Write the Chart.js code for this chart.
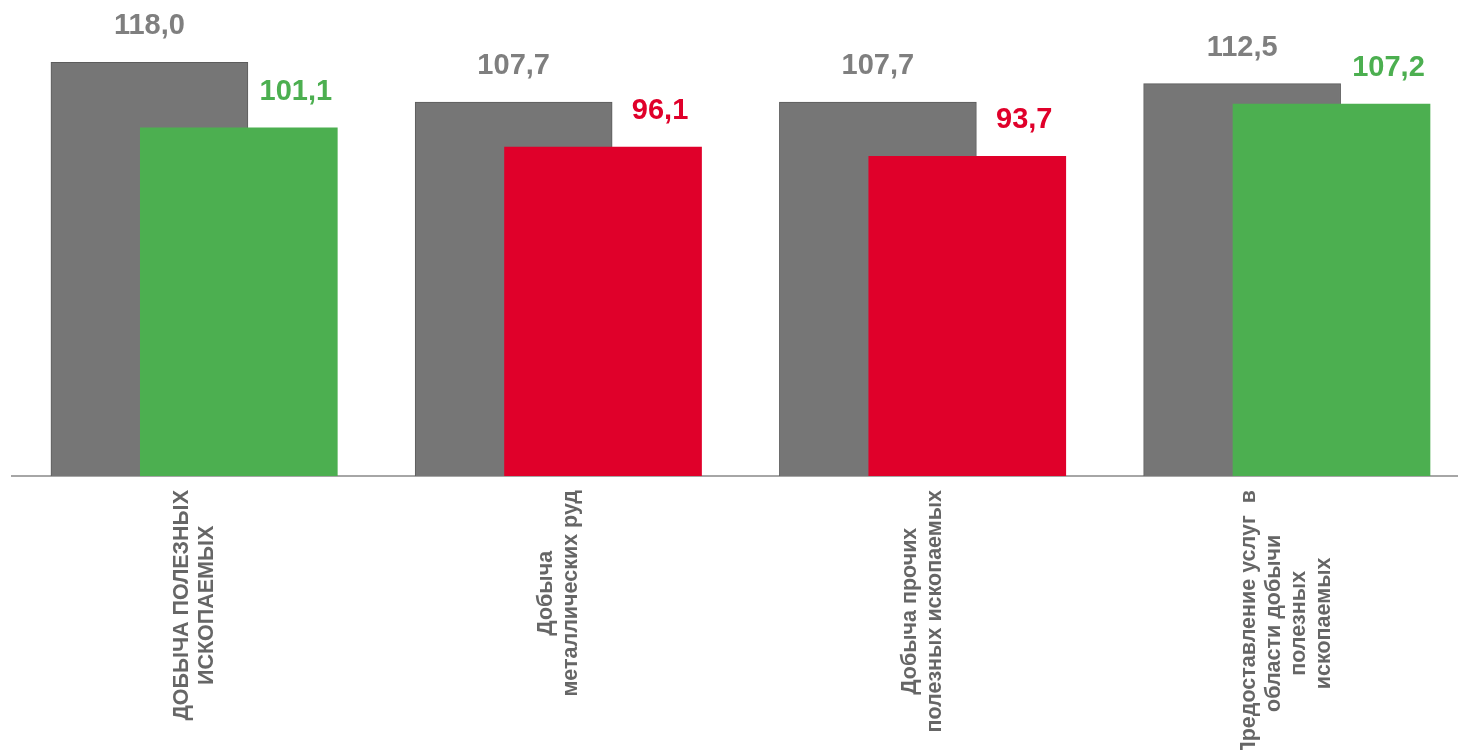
<!DOCTYPE html>
<html lang="ru">
<head>
<meta charset="utf-8">
<title>Добыча полезных ископаемых</title>
<script src="https://cdn.jsdelivr.net/npm/chart.js@4.4.1/dist/chart.umd.min.js"></script>
<style>
    html, body { margin: 0; padding: 0; background: #fff; }
    #wrap { width: 1458px; height: 750px; }
</style>
</head>
<body>
<div id="wrap"><canvas id="miningChart"></canvas></div>
<script>
    const categories = [
        ['ДОБЫЧА ПОЛЕЗНЫХ', 'ИСКОПАЕМЫХ'],
        ['Добыча', 'металлических руд'],
        ['Добыча прочих', 'полезных ископаемых'],
        ['Предоставление услуг  в', 'области добычи', 'полезных', 'ископаемых']
    ];
    const prevValues = [118.0, 107.7, 107.7, 112.5];
    const currValues = [101.1, 96.1, 93.7, 107.2];

    const GRAY = '#767676';
    const GREEN = '#4caf50';
    const RED = '#e0002a';
    // below 100 -> red, otherwise green
    const currColors = currValues.map(v => v < 100 ? RED : GREEN);

    // half the distance between the two bars of a pair, in category units
    const PAIR_SHIFT = 0.1227;

    const fmt = v => v.toFixed(1).replace('.', ',');

    const valueLabels = {
        id: 'valueLabels',
        afterDatasetsDraw(chart) {
            const ctx = chart.ctx;
            ctx.save();
            ctx.font = 'bold 29px "Liberation Sans", Arial, sans-serif';
            ctx.textAlign = 'center';
            ctx.textBaseline = 'middle';
            chart.data.datasets.forEach((ds, di) => {
                const meta = chart.getDatasetMeta(di);
                meta.data.forEach((bar, i) => {
                    const value = di === 0 ? prevValues[i] : currValues[i];
                    ctx.fillStyle = di === 0 ? '#7f7f7f' : currColors[i];
                    const dx = di === 0 ? 0 : 57;
                    ctx.fillText(fmt(value), bar.x + dx, bar.y - 36);
                });
            });
            ctx.restore();
        }
    };

    const categoryLabels = {
        id: 'categoryLabels',
        afterDraw(chart) {
            const ctx = chart.ctx;
            const xScale = chart.scales.x;
            const top = chart.chartArea.bottom + 14;
            const lh = 25;
            ctx.save();
            ctx.font = 'bold 21.5px "Liberation Sans", Arial, sans-serif';
            ctx.fillStyle = '#666666';
            ctx.textAlign = 'center';
            ctx.textBaseline = 'middle';
            categories.forEach((lines, i) => {
                const maxW = Math.max(...lines.map(l => ctx.measureText(l).width));
                ctx.save();
                ctx.translate(xScale.getPixelForValue(i), top);
                ctx.rotate(-Math.PI / 2);
                lines.forEach((line, j) => {
                    ctx.fillText(line, -maxW / 2, (j - (lines.length - 1) / 2) * lh);
                });
                ctx.restore();
            });
            ctx.restore();
        }
    };

    new Chart(document.getElementById('miningChart'), {
        type: 'bar',
        data: {
            datasets: [
                {
                    label: 'prev',
                    data: prevValues.map((v, i) => ({ x: i - PAIR_SHIFT, y: v })),
                    backgroundColor: GRAY,
                    borderColor: '#5c5c5c',
                    borderWidth: 1,
                    order: 2
                },
                {
                    label: 'curr',
                    data: currValues.map((v, i) => ({ x: i + PAIR_SHIFT, y: v })),
                    backgroundColor: currColors,
                    borderWidth: 0,
                    order: 1
                }
            ]
        },
        options: {
            responsive: true,
            maintainAspectRatio: false,
            animation: false,
            grouped: false,
            barThickness: 197,
            layout: { padding: { left: 12, right: 0, top: 16, bottom: 274 } },
            plugins: {
                legend: { display: false },
                tooltip: { enabled: false }
            },
            scales: {
                x: {
                    type: 'linear',
                    offset: false,
                    min: -0.5,
                    max: 3.47,
                    ticks: { display: false },
                    grid: { display: false, drawTicks: false },
                    border: { color: '#a6a6a6', width: 2 }
                },
                y: {
                    display: false,
                    min: 11,
                    max: 130
                }
            }
        },
        plugins: [valueLabels, categoryLabels]
    });
</script>
</body>
</html>
